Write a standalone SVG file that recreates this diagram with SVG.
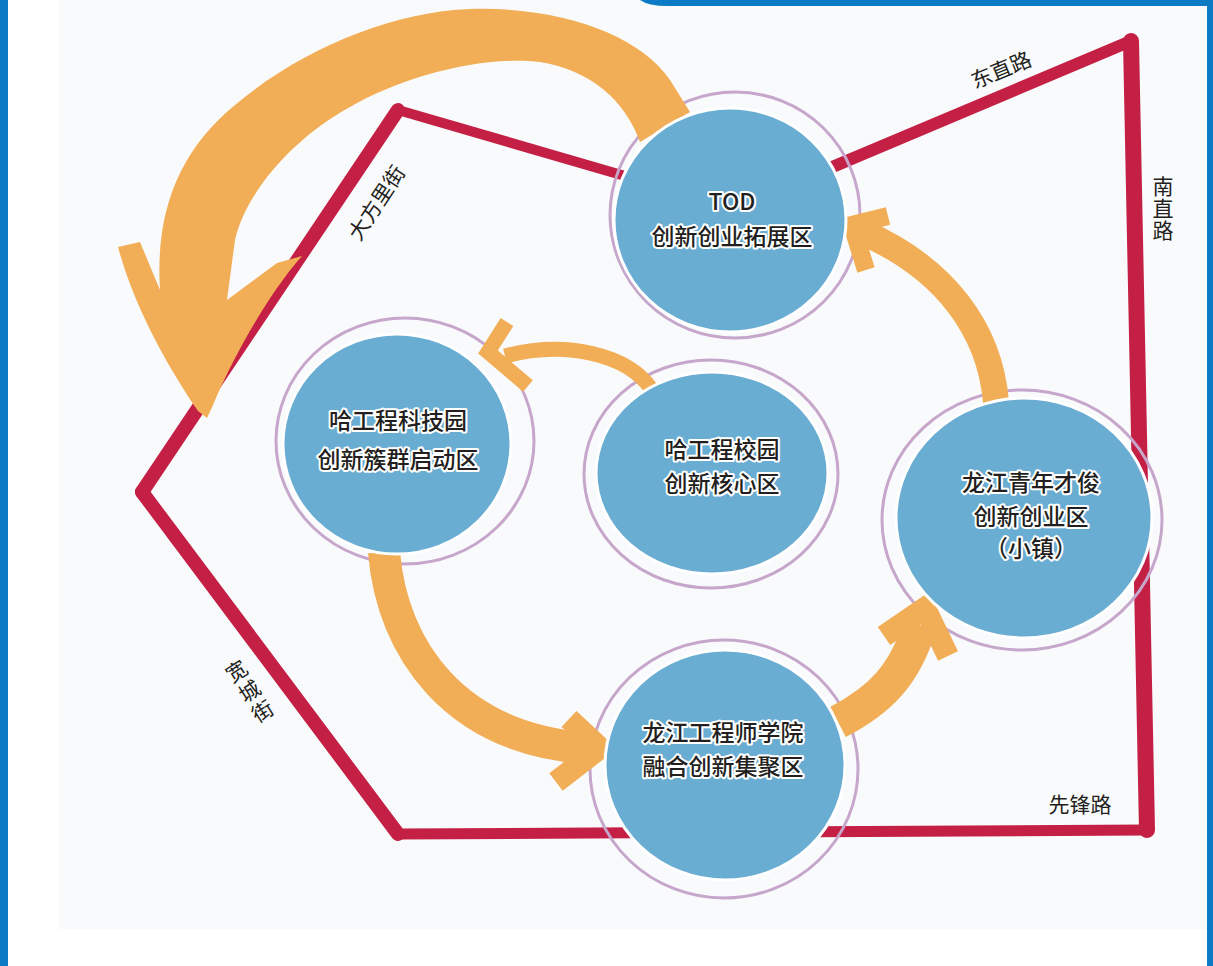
<svg xmlns="http://www.w3.org/2000/svg" width="1213" height="966" viewBox="0 0 1213 966">
<style>
.road{stroke:#c41f45;fill:none;stroke-linecap:round;stroke-linejoin:round}
.ring{fill:none;stroke:#c7a6cc;stroke-width:3}
.disc{fill:#6aadd2;stroke:#ffffff;stroke-width:3}
.arr{fill:#f2ae56}
.arrs{fill:none;stroke:#f2ae56;stroke-linecap:butt;stroke-linejoin:miter}
.lbl{font-family:"Noto Sans CJK SC","Noto Sans",sans-serif;font-size:23px;font-weight:500;fill:#231f20;stroke:#ffffff;stroke-width:4;paint-order:stroke;stroke-linejoin:round;text-anchor:middle}
.road-lbl{font-family:"Noto Sans CJK SC","Noto Sans",sans-serif;font-size:21px;fill:#231f20;text-anchor:middle}
</style>
<rect x="0" y="0" width="1213" height="966" fill="#ffffff"/>
<rect x="59" y="0" width="1148" height="929" fill="#f9fafb"/>
<rect x="0" y="0" width="8" height="966" fill="#0a7bc4"/>
<rect x="1207" y="0" width="6" height="966" fill="#0a7bc4"/>
<path d="M640,0 H1213 V6 H668 Q648,6 640,0 Z" fill="#0a7bc4"/>

<g id="roads">
<line class="road" x1="398" y1="110" x2="735" y2="208" stroke-width="10"/>
<line class="road" x1="735" y1="208" x2="1131" y2="41" stroke-width="12"/>
<line class="road" x1="1131" y1="41" x2="1147" y2="830" stroke-width="16"/>
<line class="road" x1="1147" y1="830" x2="398" y2="834" stroke-width="11"/>
<line class="road" x1="398" y1="834" x2="142" y2="492" stroke-width="14"/>
<line class="road" x1="142" y1="492" x2="398" y2="110" stroke-width="14"/>
</g>

<g id="road-labels">
<text class="road-lbl" transform="translate(1004,77) rotate(-22.5)">东直路</text>
<text class="road-lbl" x="1163" y="176" style="writing-mode:vertical-rl;text-anchor:start;letter-spacing:1px">南直路</text>
<text class="road-lbl" transform="translate(383,207) rotate(-56.5)">大方里街</text>
<text class="road-lbl" transform="translate(237,672) rotate(-33)" dy="7">宽</text>
<text class="road-lbl" transform="translate(250,692) rotate(-33)" dy="7">城</text>
<text class="road-lbl" transform="translate(263,712) rotate(-33)" dy="7">街</text>
<text class="road-lbl" x="1080" y="812">先锋路</text>
</g>

<g id="halos">
<ellipse class="ring" cx="735" cy="215" rx="125" ry="123"/>
<ellipse class="ring" cx="405" cy="441" rx="129" ry="123"/>
<ellipse class="ring" cx="711" cy="474" rx="127" ry="114"/>
<ellipse class="ring" cx="1022" cy="520" rx="140" ry="130"/>
<ellipse class="ring" cx="724" cy="769" rx="134" ry="129"/>
</g>

<g id="connectors">
<path class="arr" d="M640,142 C625,100 590,70 540,62 C480,55 400,78 350,107 C290,140 245,195 235,240 L227,300 L277,263 L302,256 C280,280 240,340 213,405 L207,418 L198,411 C170,370 135,310 118,247 L140,242 L160,290 C155,210 180,150 235,105 C300,50 390,12 470,9 C560,6 640,35 670,80 L690,112 Z"/>
<path class="arrs" d="M652,390 C628,354 565,340 505,356" stroke-width="15"/>
<polyline class="arrs" points="507,322 488,352 528,386" stroke-width="15"/>
<path class="arrs" d="M384,552 C392,650 455,738 585,748" stroke-width="32"/>
<polyline class="arrs" points="569,719 600,748 556,782" stroke-width="22"/>
<path class="arrs" d="M838,722 C880,700 905,675 920,625" stroke-width="34"/>
<polyline class="arrs" points="884,636 925,608 948,656" stroke-width="22"/>
<path class="arrs" d="M996,402 C990,330 945,268 862,232" stroke-width="26"/>
<polyline class="arrs" points="888,216 852,225 866,270" stroke-width="18"/>
</g>

<g id="node-tod">
<ellipse class="disc" cx="730" cy="220" rx="116" ry="112"/>
<text class="lbl" x="732" y="210">TOD</text>
<text class="lbl" x="732" y="245">创新创业拓展区</text>
</g>
<g id="node-keji">
<ellipse class="disc" cx="397" cy="444" rx="114" ry="110"/>
<text class="lbl" x="398" y="429">哈工程科技园</text>
<text class="lbl" x="398" y="468">创新簇群启动区</text>
</g>
<g id="node-xiaoyuan">
<ellipse class="disc" cx="712" cy="473" rx="116" ry="101"/>
<text class="lbl" x="722" y="458">哈工程校园</text>
<text class="lbl" x="722" y="492">创新核心区</text>
</g>
<g id="node-xiaozhen">
<ellipse class="disc" cx="1024" cy="518" rx="128" ry="120"/>
<text class="lbl" x="1031" y="491">龙江青年才俊</text>
<text class="lbl" x="1031" y="525">创新创业区</text>
<text class="lbl" x="1031" y="557">（小镇）</text>
</g>
<g id="node-shixueyuan">
<ellipse class="disc" cx="725" cy="765" rx="120" ry="115"/>
<text class="lbl" x="723" y="741">龙江工程师学院</text>
<text class="lbl" x="723" y="775">融合创新集聚区</text>
</g>
</svg>
